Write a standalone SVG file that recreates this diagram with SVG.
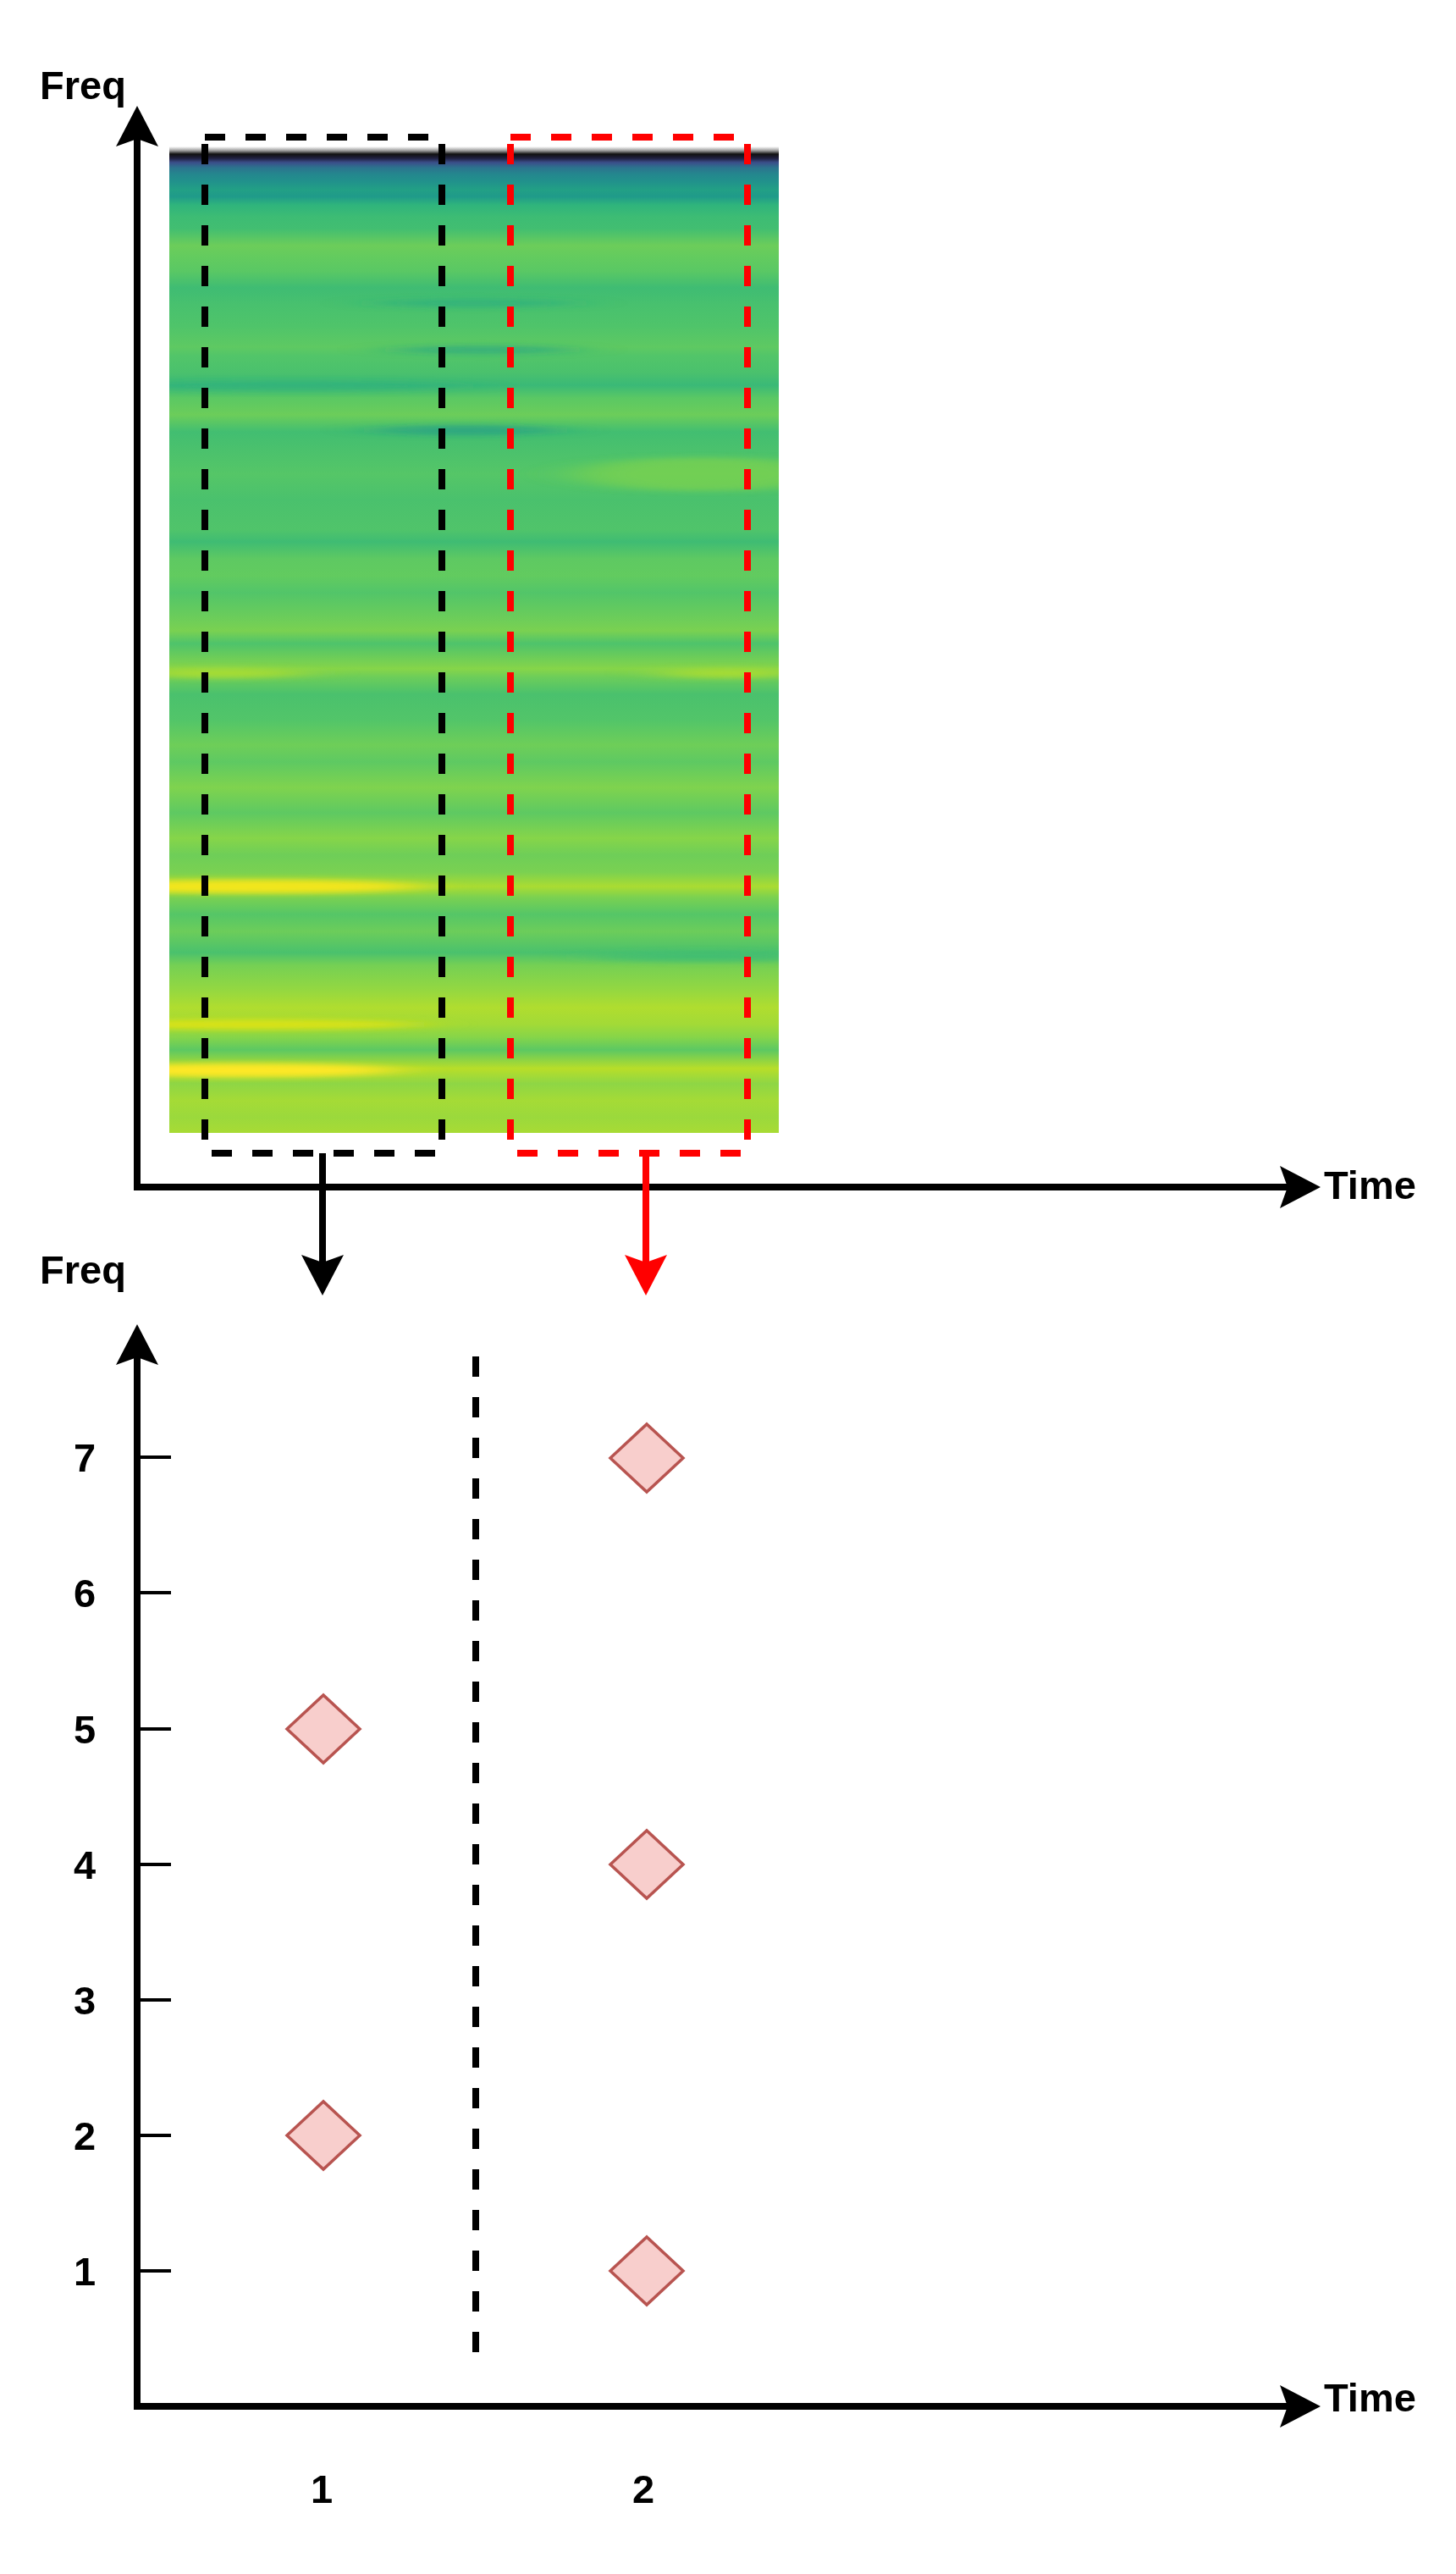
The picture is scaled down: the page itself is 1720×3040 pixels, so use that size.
<svg xmlns="http://www.w3.org/2000/svg" width="1720" height="3040" viewBox="0 0 1720 3040">
<style>
  .lbl{font-family:"Liberation Sans",Arial,sans-serif;font-weight:bold;font-size:47px;fill:#000}
  .axis{stroke:#000;stroke-width:8;fill:none}
  .tick{stroke:#000;stroke-width:4}
  .dash{fill:none;stroke-width:8;stroke-dasharray:24 24}
  .dia{fill:#f8cecc;stroke:#b85450;stroke-width:3.5}
</style>
<defs>
  <marker id="ahK" markerUnits="userSpaceOnUse" viewBox="0 -25 50 50" markerWidth="50" markerHeight="50" refX="11" refY="0" orient="auto">
    <path d="M0,-25 L48,0 L0,25 L9,0 Z" fill="#000"/>
  </marker>
  <marker id="ahR" markerUnits="userSpaceOnUse" viewBox="0 -25 50 50" markerWidth="50" markerHeight="50" refX="11" refY="0" orient="auto">
    <path d="M0,-25 L48,0 L0,25 L9,0 Z" fill="#ff0000"/>
  </marker>
  <linearGradient id="spec" gradientUnits="userSpaceOnUse" x1="0" y1="0" x2="0" y2="1400">
    <stop offset=".12357" stop-color="#ffffff"/>
    <stop offset=".12714" stop-color="#9a9a9a"/>
    <stop offset=".13" stop-color="#101010"/>
    <stop offset=".13357" stop-color="#202040"/>
    <stop offset=".13714" stop-color="#3b4f8a"/>
    <stop offset=".14143" stop-color="#2c738e"/>
    <stop offset=".14714" stop-color="#24878e"/>
    <stop offset=".15286" stop-color="#21918c"/>
    <stop offset=".16" stop-color="#22a085"/>
    <stop offset=".16571" stop-color="#1f9a8a"/>
    <stop offset=".17286" stop-color="#2fb47c"/>
    <stop offset=".18286" stop-color="#3dbc74"/>
    <stop offset=".19286" stop-color="#42be71"/>
    <stop offset=".20714" stop-color="#6ccd5a"/>
    <stop offset=".21786" stop-color="#62cb5f"/>
    <stop offset=".22857" stop-color="#5ac864"/>
    <stop offset=".24286" stop-color="#3fbc73"/>
    <stop offset=".25714" stop-color="#48c16e"/>
    <stop offset=".275" stop-color="#4fc46a"/>
    <stop offset=".29286" stop-color="#5ec962"/>
    <stop offset=".3" stop-color="#52c569"/>
    <stop offset=".31429" stop-color="#4ac16d"/>
    <stop offset=".325" stop-color="#3ab977"/>
    <stop offset=".33571" stop-color="#5ac864"/>
    <stop offset=".35" stop-color="#6ccd5a"/>
    <stop offset=".36429" stop-color="#42be71"/>
    <stop offset=".37857" stop-color="#4ac16d"/>
    <stop offset=".4" stop-color="#55c667"/>
    <stop offset=".42143" stop-color="#4ac16d"/>
    <stop offset=".44643" stop-color="#50c46a"/>
    <stop offset=".45714" stop-color="#3fbc73"/>
    <stop offset=".47143" stop-color="#5ec962"/>
    <stop offset=".48571" stop-color="#62cb5f"/>
    <stop offset=".5" stop-color="#52c569"/>
    <stop offset=".52143" stop-color="#6ccd5a"/>
    <stop offset=".53214" stop-color="#7ad151"/>
    <stop offset=".54286" stop-color="#4ec36b"/>
    <stop offset=".56429" stop-color="#86d549"/>
    <stop offset=".57143" stop-color="#6ccd5a"/>
    <stop offset=".58571" stop-color="#4ac16d"/>
    <stop offset=".60714" stop-color="#52c569"/>
    <stop offset=".62857" stop-color="#6ece58"/>
    <stop offset=".64286" stop-color="#5ec962"/>
    <stop offset=".66429" stop-color="#7fd34e"/>
    <stop offset=".68571" stop-color="#5ec962"/>
    <stop offset=".70714" stop-color="#86d549"/>
    <stop offset=".72143" stop-color="#6ece58"/>
    <stop offset=".73571" stop-color="#7ad151"/>
    <stop offset=".74786" stop-color="#aadc32"/>
    <stop offset=".75714" stop-color="#7ad151"/>
    <stop offset=".77143" stop-color="#55c667"/>
    <stop offset=".78571" stop-color="#6ccd5a"/>
    <stop offset=".80357" stop-color="#4ac16d"/>
    <stop offset=".81429" stop-color="#75d054"/>
    <stop offset=".83571" stop-color="#95d840"/>
    <stop offset=".85" stop-color="#b0dd2f"/>
    <stop offset=".86429" stop-color="#a2da37"/>
    <stop offset=".875" stop-color="#86d549"/>
    <stop offset=".88571" stop-color="#5cc863"/>
    <stop offset=".90143" stop-color="#b8de29"/>
    <stop offset=".91429" stop-color="#8ed645"/>
    <stop offset=".92857" stop-color="#a5db36"/>
    <stop offset=".94286" stop-color="#9bd93c"/>
    <stop offset=".95571" stop-color="#a8db34"/>
  </linearGradient>
  <clipPath id="specClip"><rect x="200" y="173" width="720" height="1165"/></clipPath>
  <filter id="streak" x="-30%" y="-30%" width="160%" height="160%">
    <feGaussianBlur stdDeviation="30 3"/>
  </filter>
</defs>

<g id="spectrogram">
  <rect x="200" y="173" width="720" height="1165" fill="url(#spec)"/>
  <g clip-path="url(#specClip)" filter="url(#streak)">
    <ellipse cx="560" cy="358" rx="120" ry="5" fill="#2aaa82" opacity=".6"/>
    <ellipse cx="570" cy="413" rx="110" ry="5" fill="#1fa088" opacity=".6"/>
    <ellipse cx="350" cy="456" rx="200" ry="6" fill="#2cae80" opacity=".5"/>
    <ellipse cx="550" cy="508" rx="110" ry="6" fill="#21988a" opacity=".6"/>
    <ellipse cx="830" cy="560" rx="150" ry="20" fill="#86d549" opacity=".6"/>
    <ellipse cx="260" cy="795" rx="100" ry="6" fill="#a5db36"/>
    <ellipse cx="860" cy="795" rx="80" ry="6" fill="#a5db36"/>
    <ellipse cx="300" cy="1047" rx="200" ry="8" fill="#f2e51d"/>
    <ellipse cx="830" cy="1130" rx="130" ry="6" fill="#3bbb75" opacity=".7"/>
    <ellipse cx="300" cy="1210" rx="200" ry="6" fill="#d8e219"/>
    <ellipse cx="290" cy="1264" rx="180" ry="8" fill="#fde725"/>
  </g>
</g>

<g id="box-black">
  <rect class="dash" x="242" y="162" width="280" height="1200" stroke="#000"/>
</g>
<g id="box-red">
  <rect class="dash" x="603" y="162" width="280" height="1200" stroke="#ff0000"/>
</g>

<g id="top-axes">
  <line class="axis" x1="162" y1="1406" x2="162" y2="162" marker-end="url(#ahK)"/>
  <line class="axis" x1="158" y1="1402" x2="1523" y2="1402" marker-end="url(#ahK)"/>
  <text class="lbl" x="47" y="117">Freq</text>
  <text class="lbl" x="1564" y="1416">Time</text>
</g>

<g id="connectors">
  <line x1="381" y1="1362" x2="381" y2="1493" stroke="#000" stroke-width="8" marker-end="url(#ahK)"/>
  <line x1="763" y1="1362" x2="763" y2="1493" stroke="#ff0000" stroke-width="8" marker-end="url(#ahR)"/>
</g>

<g id="bottom-axes">
  <line class="axis" x1="162" y1="2846" x2="162" y2="1601" marker-end="url(#ahK)"/>
  <line class="axis" x1="158" y1="2842" x2="1523" y2="2842" marker-end="url(#ahK)"/>
  <text class="lbl" x="47" y="1516">Freq</text>
  <text class="lbl" x="1564" y="2848">Time</text>
</g>

<g id="ticks">
  <line class="tick" x1="162" y1="1721" x2="202" y2="1721"/>
  <line class="tick" x1="162" y1="1881" x2="202" y2="1881"/>
  <line class="tick" x1="162" y1="2042" x2="202" y2="2042"/>
  <line class="tick" x1="162" y1="2202" x2="202" y2="2202"/>
  <line class="tick" x1="162" y1="2362" x2="202" y2="2362"/>
  <line class="tick" x1="162" y1="2522" x2="202" y2="2522"/>
  <line class="tick" x1="162" y1="2682" x2="202" y2="2682"/>
  <g text-anchor="middle">
    <text class="lbl" x="100" y="1738">7</text>
    <text class="lbl" x="100" y="1898">6</text>
    <text class="lbl" x="100" y="2059">5</text>
    <text class="lbl" x="100" y="2219">4</text>
    <text class="lbl" x="100" y="2379">3</text>
    <text class="lbl" x="100" y="2539">2</text>
    <text class="lbl" x="100" y="2699">1</text>
    <text class="lbl" x="380" y="2956">1</text>
    <text class="lbl" x="760" y="2956">2</text>
  </g>
</g>

<g id="separator">
  <line class="dash" x1="562" y1="1602" x2="562" y2="2778" stroke="#000"/>
</g>

<g id="diamond-t1-f5"><path class="dia" d="M339,2042 L382,2002 L425,2042 L382,2082 Z"/></g>
<g id="diamond-t1-f2"><path class="dia" d="M339,2522 L382,2482 L425,2522 L382,2562 Z"/></g>
<g id="diamond-t2-f7"><path class="dia" d="M721,1722 L764,1682 L807,1722 L764,1762 Z"/></g>
<g id="diamond-t2-f4"><path class="dia" d="M721,2202 L764,2162 L807,2202 L764,2242 Z"/></g>
<g id="diamond-t2-f1"><path class="dia" d="M721,2682 L764,2642 L807,2682 L764,2722 Z"/></g>
</svg>
